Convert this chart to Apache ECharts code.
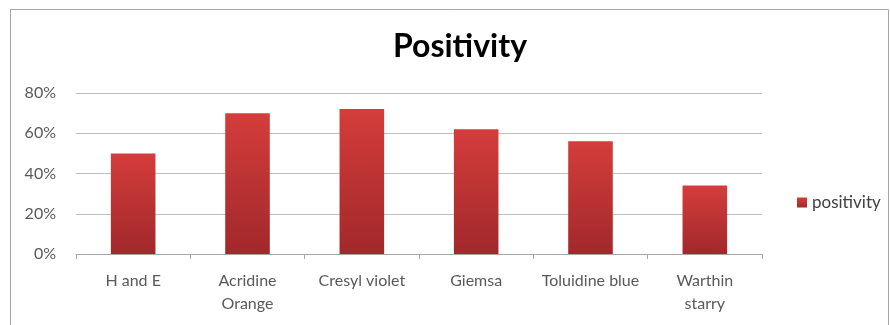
<!DOCTYPE html>
<html>

<head>
    <meta charset="utf-8" />
    <title>Positivity</title>
    <script src="https://cdn.jsdelivr.net/npm/echarts@6.0.0/dist/echarts.min.js"></script>
    <style>
        html, body { margin: 0; padding: 0; background: #fff; }
    </style>
</head>

<body>
    <div id="main" style="width: 890px;height:325px;"></div>

    <script type="text/javascript">
        var myChart = echarts.init(document.getElementById('main'));

        // data
        var categories = ['H and E', 'Acridine\nOrange', 'Cresyl violet', 'Giemsa', 'Toluidine blue', 'Warthin\nstarry'];
        var positivity = [50, 70, 72, 62, 56, 34];
        var yTicks = [0, 20, 40, 60, 80];

        var font = 'Lato, "Open Sans", sans-serif';

        option = {
            animation: false,
            title: {
                text: 'Positivity',
                left: 455,
                top: 26,
                textAlign: 'center',
                textStyle: { fontFamily: font, fontSize: 32, fontWeight: 'bold', color: '#000' }
            },
            legend: {
                data: ['positivity'],
                orient: 'vertical',
                left: 792,
                top: 189,
                icon: 'rect',
                itemWidth: 10,
                itemHeight: 10,
                itemGap: 6,
                textStyle: { fontFamily: font, fontSize: 17, color: '#404040' }
            },
            grid: {
                left: 76,
                right: 128,
                top: 93,
                bottom: 71
            },
            xAxis: {
                type: 'category',
                data: categories,
                axisLine: { lineStyle: { color: '#a6a6a6' } },
                axisTick: { show: true, length: 5, lineStyle: { color: '#a6a6a6' } },
                axisLabel: {
                    interval: 0,
                    hideOverlap: false,
                    fontFamily: font,
                    fontSize: 16,
                    color: '#595959',
                    margin: 15,
                    lineHeight: 23
                }
            },
            yAxis: {
                type: 'value',
                min: yTicks[0],
                max: yTicks[yTicks.length - 1],
                interval: 20,
                axisLine: { show: false },
                axisTick: { show: false },
                splitLine: { lineStyle: { color: '#bfbfbf' } },
                axisLabel: {
                    fontFamily: font,
                    fontSize: 16,
                    color: '#595959',
                    margin: 20,
                    formatter: '{value}%'
                }
            },
            series: [
                {
                    name: 'positivity',
                    type: 'bar',
                    data: positivity,
                    barWidth: '39%',
                    itemStyle: {
                        color: new echarts.graphic.LinearGradient(0, 0, 0, 1, [
                            { offset: 0, color: '#d43d3b' },
                            { offset: 1, color: '#a2282b' }
                        ])
                    }
                }
            ],
            graphic: [
                {
                    type: 'rect',
                    shape: { x: 10.5, y: 9.5, width: 878, height: 330 },
                    style: { fill: 'none', stroke: '#a6a6a6', lineWidth: 1 },
                    silent: true
                }
            ]
        };

        myChart.setOption(option);
    </script>
</body>

</html>
